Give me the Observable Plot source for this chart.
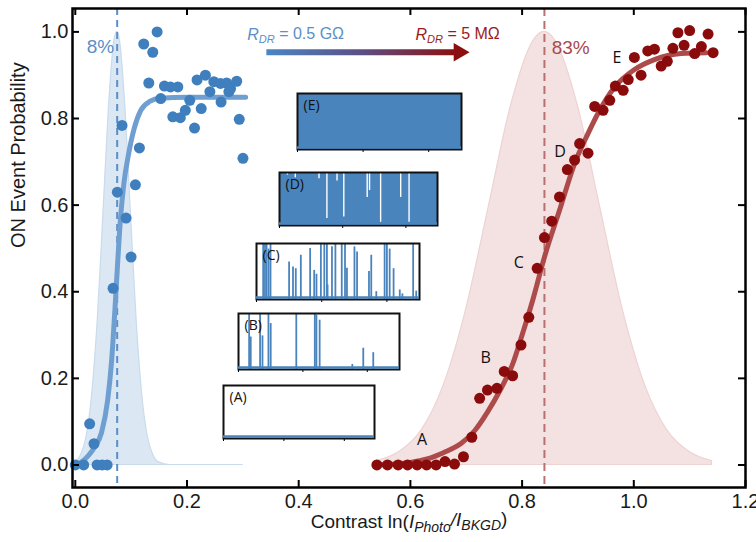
<!DOCTYPE html>
<html><head><meta charset="utf-8">
<script src="https://cdn.jsdelivr.net/npm/d3@7"></script>
<script src="https://cdn.jsdelivr.net/npm/@observablehq/plot@0.6"></script>
<style>
html,body{margin:0;padding:0;background:#fff;}
#wrap{position:relative;width:756px;height:542px;}
</style></head><body><div id="wrap"></div>
<script>
// ---- data ----
const blueX = [0.0,0.015,0.039,0.048,0.057,0.0257,0.0335,0.0676,0.0753,0.0837,0.0909,0.0999,0.1076,0.1148,0.1226,0.1316,0.1387,0.1465,0.153,0.1596,0.1704,0.1836,0.1746,0.188,0.197,0.205,0.2135,0.218,0.2255,0.233,0.241,0.248,0.260,0.261,0.271,0.275,0.278,0.289,0.2936,0.3002];
const blueY = [0,0,0,0,0,0.095,0.049,0.408,0.630,0.784,0.570,0.480,0.647,0.732,0.972,0.882,0.953,1.0,0.846,0.875,0.873,0.873,0.804,0.802,0.819,0.842,0.778,0.889,0.823,0.900,0.862,0.885,0.881,0.838,0.882,0.862,0.869,0.886,0.798,0.708];
const redX = [0.540,0.559,0.578,0.595,0.612,0.629,0.646,0.662,0.679,0.695,0.710,0.724,0.738,0.755,0.768,0.783,0.798,0.812,0.827,0.840,0.853,0.867,0.881,0.894,0.903,0.918,0.930,0.945,0.957,0.967,0.981,0.990,1.001,1.013,1.025,1.037,1.049,1.060,1.070,1.079,1.090,1.100,1.109,1.121,1.133,1.142];
const redY = [0,0,0,0,0,0,0,0.008,0.002,0.019,0.064,0.154,0.173,0.177,0.216,0.206,0.277,0.341,0.454,0.525,0.563,0.619,0.682,0.704,0.742,0.720,0.828,0.819,0.842,0.875,0.865,0.890,0.941,0.900,0.956,0.960,0.921,0.932,0.962,0.998,0.969,1.003,0.950,0.966,0.995,0.952];

const blueFitX = [0,0.01,0.023,0.035,0.047,0.058,0.065,0.071,0.076,0.081,0.087,0.095,0.105,0.117,0.134,0.152,0.2,0.305];
const blueFitY = [0,0.006,0.021,0.042,0.075,0.15,0.24,0.36,0.47,0.57,0.65,0.715,0.775,0.818,0.840,0.847,0.849,0.849];
const redFitX = [0.54,0.60,0.63,0.66,0.69,0.715,0.738,0.762,0.783,0.80,0.82,0.84,0.867,0.894,0.918,0.936,0.966,1.0,1.037,1.085,1.13];
const redFitY = [0.0,0.006,0.014,0.029,0.049,0.079,0.122,0.176,0.233,0.30,0.385,0.48,0.588,0.696,0.765,0.812,0.873,0.912,0.936,0.950,0.952];

const blueDistX = [0,0.01,0.02,0.03,0.04,0.05,0.06,0.07,0.075,0.08,0.09,0.10,0.11,0.12,0.13,0.14,0.15,0.17,0.2,0.3];
const blueDistY = [0.006,0.022,0.064,0.16,0.33,0.57,0.82,0.98,1.0,0.98,0.82,0.57,0.33,0.16,0.064,0.022,0.006,0,0,0];
const redDistX = [0.54,0.58,0.62,0.66,0.70,0.74,0.78,0.82,0.84,0.86,0.90,0.94,0.98,1.02,1.06,1.10,1.14];
const redDistY = [0.009,0.030,0.080,0.185,0.36,0.594,0.829,0.979,1.0,0.979,0.829,0.594,0.36,0.185,0.080,0.030,0.009];

const blueMean = 0.075, redMean = 0.84;
const xTicks = [0,0.2,0.4,0.6,0.8,1.0,1.2];
const yTicks = [0,0.2,0.4,0.6,0.8,1.0];

const stageLabels = ["A","B","C","D","E"];
const stageX = [0.621,0.735,0.794,0.868,0.970];
const stageY = [0.058,0.247,0.467,0.724,0.939];

const pctLabels = ["8%","83%"];
const pctX = [0.045,0.887];
const pctY = [0.965,0.964];
const pctColors = ["#5b8fc7","#a94a4a"];

const resLabels = ["R_DR = 0.5 GΩ","R_DR = 5 MΩ"];
const resX = [0.3946,0.6846];
const resY = [0.993,0.993];
const resColors = ["#5b8fc7","#9b1c1c"];
const arrowX = [0.343,0.683];   // shaft start/end
const arrowHeadX = [0.687];
const arrowY = [0.953];

// insets (signal traces)
const insetNames = ["(A)","(B)","(C)","(D)","(E)"];
const insetTicks = [0,0.4,0.8];
const bSpikeT = [0.066,0.076,0.134,0.149,0.186,0.2,0.359,0.474,0.484,0.504,0.707,0.775,0.837];
const bSpikeH = [1.0,0.58,1.0,0.6,1.0,0.82,1.0,1.0,0.97,0.88,0.09,0.38,0.30];
const cSpikeT = [0.041,0.052,0.062,0.074,0.086,0.20,0.224,0.241,0.272,0.329,0.354,0.368,0.395,0.416,0.432,0.436,0.463,0.484,0.523,0.543,0.555,0.601,0.617,0.69,0.704,0.735,0.786,0.80,0.817,0.841,0.879,0.895,0.961,0.98];
const cSpikeH = [1.0,1.0,1.0,0.9,1.0,0.67,0.58,0.55,0.79,0.91,0.52,0.45,1.0,1.0,1.0,0.26,0.94,1.0,1.0,1.0,0.56,0.94,0.85,0.5,0.79,0.14,1.0,1.0,0.9,0.55,0.17,0.1,1.0,0.15];
const dGapT = [0.05,0.10,0.25,0.30,0.364,0.407,0.555,0.57,0.64,0.767,0.82];
const dGapLow = [0.95,0.9,0.88,0.13,0.84,0.16,0.53,0.66,0.06,0.53,0.06];

// ---- layout ----
const W = 756, H = 542, mL = 72, mR = 11, mT = 8, mB = 55;
const pw = W - mL - mR, ph = H - mT - mB;
const pts = (xs, ys) => xs.map((x, i) => ({x, y: ys[i]}));
const BLUE = "#3f7fbe", RED = "#8a0b0b", TRACE = "#4a84bd";

const chart = Plot.plot({
  width: W, height: H, marginLeft: mL, marginRight: mR, marginTop: mT, marginBottom: mB,
  style: {fontFamily: "'Liberation Sans', Arial, sans-serif", fontSize: "20px", background: "white", color: "#1a1a1a"},
  x: {domain: [-0.005, 1.2], ticks: xTicks, tickFormat: d3.format(".1f"), tickSize: 0, tickPadding: 6, label: null},
  y: {domain: [-0.052, 1.054], ticks: yTicks, tickFormat: d3.format(".1f"), tickSize: 0, tickPadding: 4, label: null},
  marks: [
    Plot.areaY(pts(blueDistX, blueDistY), {x: "x", y: "y", fill: "#dbe7f3", stroke: "#c9dbed", strokeWidth: 1.2, curve: "monotone-x"}),
    Plot.areaY(pts(redDistX, redDistY), {x: "x", y: "y", fill: "#f4e1e1", stroke: "#eed3d3", strokeWidth: 1.2, curve: "monotone-x"}),
    Plot.ruleX([blueMean], {stroke: "#5b8fc7", strokeWidth: 2, strokeDasharray: "7,5"}),
    Plot.ruleX([redMean], {stroke: "#b87070", strokeWidth: 2, strokeDasharray: "8,5"}),
    Plot.line(pts(blueFitX, blueFitY), {x: "x", y: "y", stroke: "#6f9fd0", strokeWidth: 5, curve: "monotone-x"}),
    Plot.line(pts(redFitX, redFitY), {x: "x", y: "y", stroke: "#ad4a4a", strokeWidth: 5, curve: "monotone-x"}),
    Plot.dot(pts(blueX, blueY), {x: "x", y: "y", r: 5.5, fill: BLUE}),
    Plot.dot(pts(redX, redY), {x: "x", y: "y", r: 5.5, fill: RED}),
    Plot.text(stageLabels, {x: (d, i) => stageX[i], y: (d, i) => stageY[i], fontSize: 16, fill: "#111", fontFamily: "'Open Sans', sans-serif"}),
    Plot.text(pctLabels, {x: (d, i) => pctX[i], y: (d, i) => pctY[i], fill: (d, i) => pctColors[i], fontSize: 19}),
    Plot.text(resLabels, {x: (d, i) => resX[i], y: (d, i) => resY[i], fill: (d, i) => resColors[i], fontSize: 16}),
    Plot.ruleY(arrowY, {x1: arrowX[0], x2: arrowX[1], stroke: "url(#rgrad)", strokeWidth: 6}),
    Plot.dot(arrowY, {x: arrowHeadX[0], y: d => d, symbol: "triangle", rotate: 90, r: 6.8, fill: "#8b0f0f"}),
    Plot.text(["Contrast ln(I/I)"], {frameAnchor: "bottom", dy: 40, fontSize: 19}),
    Plot.text(["ON Event Probability"], {frameAnchor: "left", rotate: -90, dx: -54, fontSize: 20}),
    Plot.frame({stroke: "black", strokeWidth: 2.5}),
    Plot.ruleX(xTicks, {stroke: "black", strokeWidth: 2, insetTop: ph - 7}),
    Plot.ruleX(xTicks, {stroke: "black", strokeWidth: 2, insetBottom: ph - 7}),
    Plot.ruleY(yTicks, {stroke: "black", strokeWidth: 2, insetRight: pw - 7}),
    Plot.ruleY(yTicks, {stroke: "black", strokeWidth: 2, insetLeft: pw - 7})
  ]
});

// gradient for the arrow shaft
const sx = chart.scale("x");
const defs = d3.select(chart).insert("defs", ":first-child");
const grad = defs.append("linearGradient").attr("id", "rgrad").attr("gradientUnits", "userSpaceOnUse")
  .attr("x1", sx.apply(arrowX[0])).attr("x2", sx.apply(arrowX[1])).attr("y1", 0).attr("y2", 0);
grad.append("stop").attr("offset", "0%").attr("stop-color", "#4a86c5");
grad.append("stop").attr("offset", "50%").attr("stop-color", "#5c4f86");
grad.append("stop").attr("offset", "100%").attr("stop-color", "#8b0f0f");

// rich text (italics / subscripts)
function rich(match, parts) {
  d3.select(chart).selectAll("text").filter(function () { return this.textContent === match; }).each(function () {
    const t = d3.select(this); t.text(null);
    let shifted = false;
    parts.forEach(p => {
      const s = t.append("tspan").text(p.t);
      if (p.i) s.attr("font-style", "italic");
      if (p.sub) { s.attr("font-size", p.sub).attr("dy", shifted ? null : "0.3em"); shifted = true; }
      else if (shifted) { s.attr("dy", "-0.3em"); shifted = false; }
    });
  });
}
rich("R_DR = 0.5 GΩ", [{t: "R", i: 1}, {t: "DR", i: 1, sub: 11}, {t: " = 0.5 GΩ"}]);
rich("R_DR = 5 MΩ", [{t: "R", i: 1}, {t: "DR", i: 1, sub: 11}, {t: " = 5 MΩ"}]);
rich("Contrast ln(I/I)", [{t: "Contrast ln("}, {t: "I", i: 1}, {t: "Photo", i: 1, sub: 14}, {t: "/", i: 1}, {t: "I", i: 1}, {t: "BKGD", i: 1, sub: 14}, {t: ")"}]);

const wrap = document.getElementById("wrap");
wrap.appendChild(chart);

// ---- insets ----
const insetBoxes = [
  {x: 223, y: 385, w: 151, h: 53},
  {x: 238, y: 313, w: 161, h: 56},
  {x: 256, y: 243, w: 163, h: 56},
  {x: 279, y: 172, w: 158, h: 53},
  {x: 297, y: 93, w: 164, h: 56}
];
const insetMarks = [
  [],
  [Plot.ruleX(pts(bSpikeT, bSpikeH), {x: "x", y1: 0, y2: "y", stroke: TRACE, strokeWidth: 1.8})],
  [Plot.ruleX(pts(cSpikeT, cSpikeH), {x: "x", y1: 0, y2: "y", stroke: TRACE, strokeWidth: 1.8})],
  [Plot.ruleX(pts(dGapT, dGapLow), {x: "x", y1: "y", y2: 1, stroke: "white", strokeWidth: 1.4})],
  []
];
const insetFill = ["white", "white", "white", TRACE, TRACE];
insetBoxes.forEach((b, k) => {
  const pad = 4;
  const p = Plot.plot({
    width: b.w + 2 * pad, height: b.h + 2 * pad, margin: pad,
    style: {background: "transparent", overflow: "visible"},
    x: {domain: [0, 1], ticks: insetTicks, tickSize: 3, tickFormat: () => "", label: null},
    y: {domain: [0, 1], axis: null},
    marks: [
      Plot.frame({fill: insetFill[k]}),
      ...insetMarks[k],
      Plot.frame({stroke: "#111", strokeWidth: 2}),
      Plot.ruleY([0], {stroke: TRACE, strokeWidth: 2.5, dy: -2}),
      Plot.text([insetNames[k]], {frameAnchor: "top-left", dx: 6, dy: 7, fontSize: 14, fill: "#111", fontFamily: "'Open Sans', sans-serif"})
    ]
  });
  p.style.position = "absolute";
  p.style.left = (b.x - pad) + "px";
  p.style.top = (b.y - pad) + "px";
  wrap.appendChild(p);
});
</script>
</body></html>
